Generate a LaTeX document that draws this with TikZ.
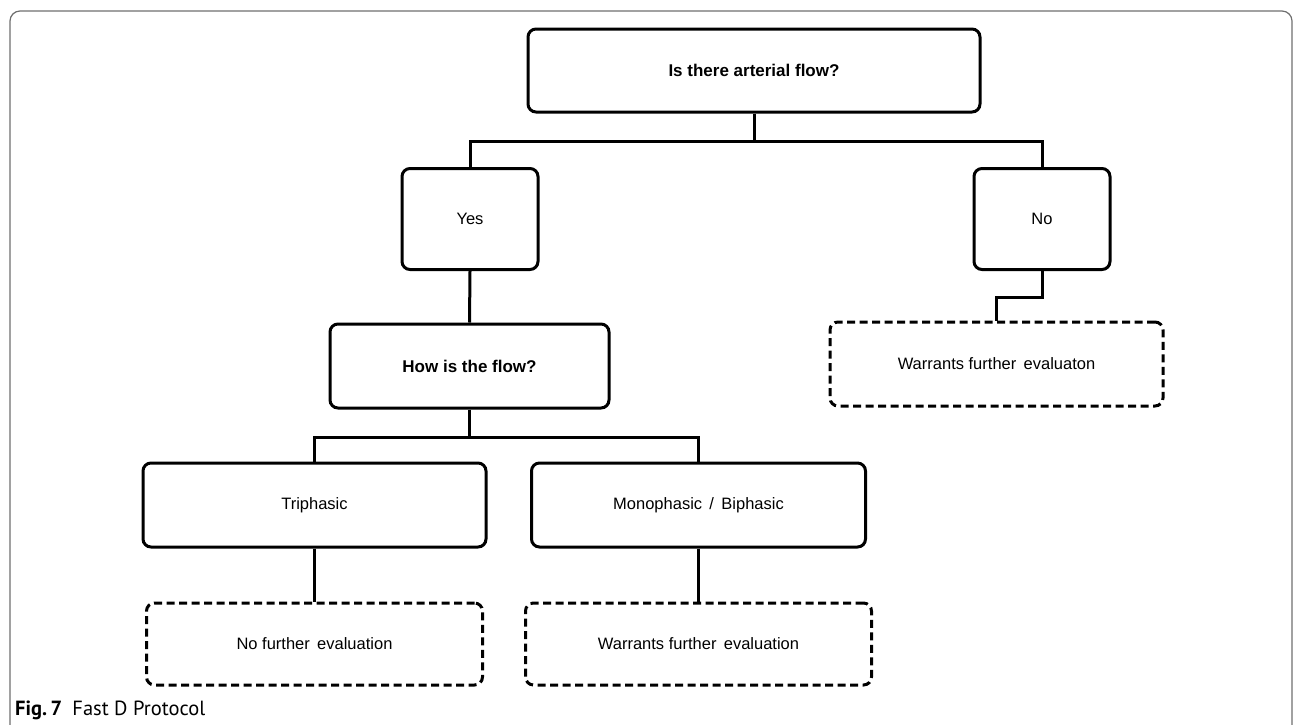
\documentclass[tikz,border=0pt]{standalone}
\usepackage{xcolor}
\usepackage{fontspec}
\setmainfont{Liberation Sans}
\newfontfamily\capfont{PT Sans}
\usepackage{tikz}
\definecolor{framegray}{RGB}{110,110,110}

\begin{document}
\begin{tikzpicture}[x=1pt, y=-1pt,
  stepnode/.style={draw, line width=3pt, rounded corners=8pt, inner sep=0pt, align=center,
    font=\fontsize{16.5}{20}\selectfont},
  qnode/.style={stepnode, font=\fontsize{17}{20}\selectfont\bfseries},
  endnode/.style={stepnode, dash pattern=on 8pt off 4.5pt},
  link/.style={line width=3pt, line join=miter}]
            \useasboundingbox (0,0) rectangle (1295,724);
            \draw[framegray, line width=1.2pt, rounded corners=10pt] (10,11) rectangle (1292,780);
            \node[qnode, minimum width=452pt, minimum height=83pt] (flow) at (754,70.5) {Is there arterial flow?};
            \node[stepnode, minimum width=136pt, minimum height=101pt] (yes) at (470,219) {Yes};
            \node[stepnode, minimum width=136pt, minimum height=101pt] (no) at (1042,219) {No};
            \node[qnode, minimum width=279pt, minimum height=84pt] (how) at (469.5,366) {How is the flow?};
            \node[stepnode, minimum width=343pt, minimum height=84pt] (tri) at (314.5,505) {Triphasic};
            \node[stepnode, minimum width=334pt, minimum height=84pt] (mono) at (698.5,505) {Monophasic \,/\, Biphasic};
            \node[endnode, minimum width=336pt, minimum height=82pt] (endtri) at (314.5,644) {No further \,evaluation};
            \node[endnode, minimum width=346pt, minimum height=82pt] (endmono) at (698.5,644) {Warrants further \,evaluation};
            \node[endnode, minimum width=333pt, minimum height=84pt] (endno) at (996.5,364) {Warrants further \,evaluaton};
            \draw[link] (flow.south) -- ++(0,28) -| (yes.north);
            \draw[link] (flow.south) -- ++(0,28) -| (no.north);
            \draw[link] (yes.south) -- (how.north);
            \draw[link] (no.south) -- ++(0,26) -| (endno.north);
            \draw[link] (how.south) -- ++(0,28) -| (tri.north);
            \draw[link] (how.south) -- ++(0,28) -| (mono.north);
            \draw[link] (tri.south) -- (endtri.north);
            \draw[link] (mono.south) -- (endmono.north);
            \node[anchor=base west, inner sep=0pt] (caption) at (15,715)
              {\capfont\fontsize{20.5}{24}\selectfont\textbf{Fig.\,7}\hspace{0.5em}Fast D Protocol};
        \end{tikzpicture}
\end{document}
